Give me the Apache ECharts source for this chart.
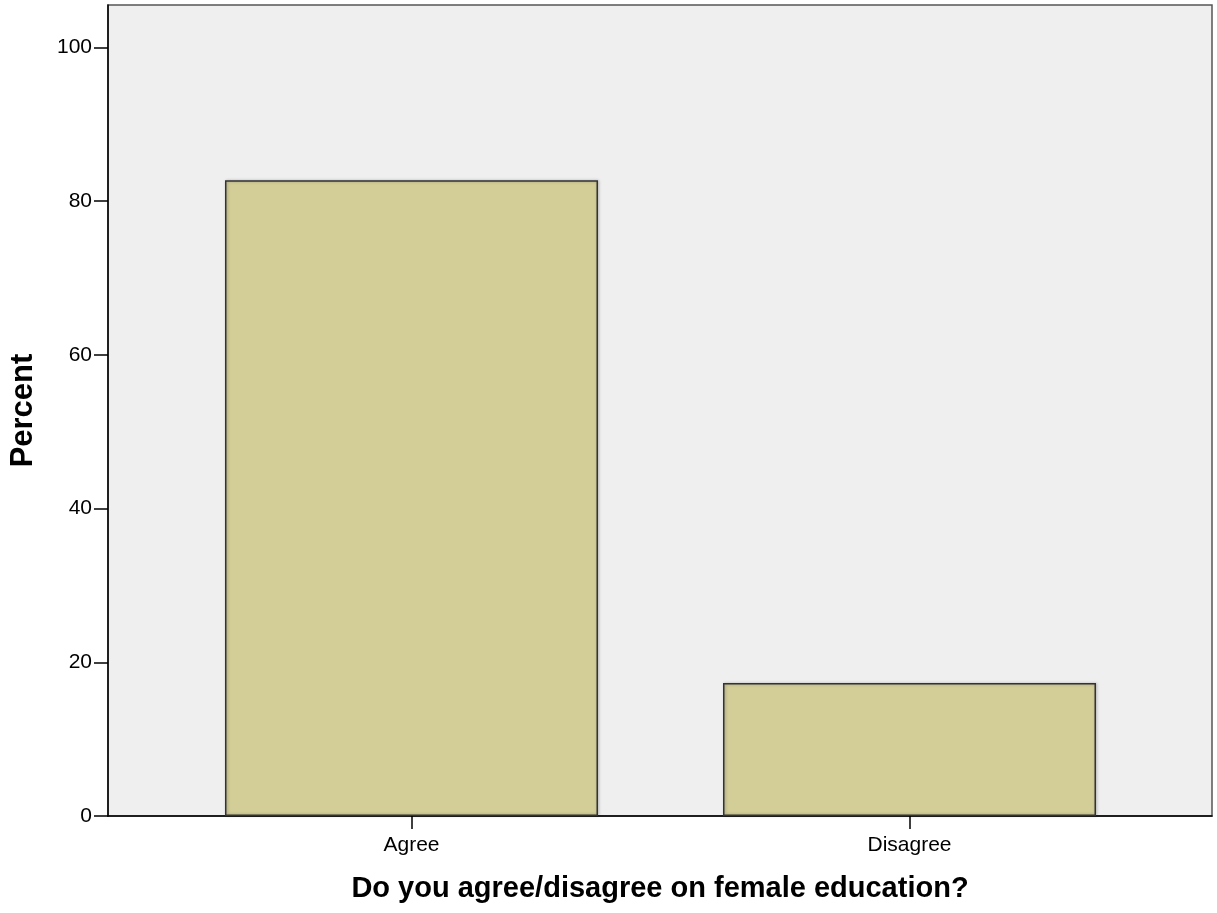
<!DOCTYPE html>
<html>
<head>
<meta charset="utf-8">
<script src="https://cdn.jsdelivr.net/npm/echarts@6/dist/echarts.min.js"></script>
<style>
html,body{margin:0;padding:0;background:#fff;}
#chart{width:1217px;height:913px;}
</style>
</head>
<body>
<div id="chart"></div>
<script>
const categories = ['Agree', 'Disagree'];
const percentValues = [82.7, 17.3];
const yTicks = [0, 20, 40, 60, 80, 100];

const positions = categories.map((c, i) => i);
const chart = echarts.init(document.getElementById('chart'), null, {renderer: 'canvas'});
chart.setOption({
  backgroundColor: '#ffffff',
  animation: false,
  textStyle: {fontFamily: '"Liberation Sans", Arial, sans-serif'},
  grid: {
    left: 108, right: 5, top: 5, bottom: 97,
    show: true, backgroundColor: '#efefef', borderColor: '#555', borderWidth: 1.5,
    containLabel: false,
    outerBoundsMode: 'none'
  },
  xAxis: {
    type: 'value',
    min: -0.6094, max: 1.6074,
    name: 'Do you agree/disagree on female education?',
    nameLocation: 'middle',
    nameGap: 58,
    nameTextStyle: {fontSize: 29, fontWeight: 'bold', color: '#000'},
    axisLine: {show: true, onZero: false, lineStyle: {color: '#000', width: 1.5}},
    axisTick: {show: true, customValues: positions, length: 13, lineStyle: {color: '#000', width: 1.5}},
    axisLabel: {fontSize: 21, color: '#000', margin: 19, customValues: positions,
      formatter: v => categories[Math.round(v)] || ''},
    splitLine: {show: false}
  },
  yAxis: {
    type: 'value',
    min: 0, max: 105.5, interval: 20,
    name: 'Percent',
    nameLocation: 'middle',
    nameGap: 69,
    nameRotate: 90,
    nameTextStyle: {fontSize: 31, fontWeight: 'bold', color: '#000'},
    axisLine: {show: true, onZero: false, lineStyle: {color: '#000', width: 1.5}},
    axisTick: {show: true, length: 14, lineStyle: {color: '#000', width: 1.5}},
    axisLabel: {fontSize: 21, color: '#000', margin: 16, showMaxLabel: false,
      formatter: v => yTicks.includes(v) ? String(v) : ''},
    splitLine: {show: false}
  },
  series: [{
    type: 'bar',
    data: positions.map(i => [i, percentValues[i]]),
    barWidth: 373,
    itemStyle: {color: '#d3cd98', borderColor: '#333', borderWidth: 1.5,
      shadowBlur: 3, shadowColor: 'rgba(0,0,0,0.25)', shadowOffsetX: 1, shadowOffsetY: 0}
  }]
});
</script>
</body>
</html>
